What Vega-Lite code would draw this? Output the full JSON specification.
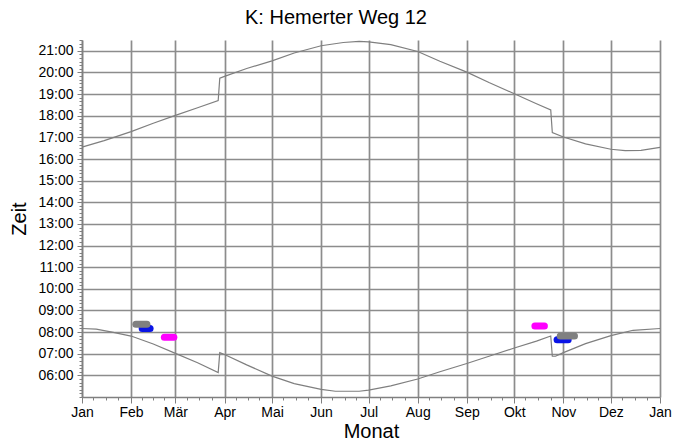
{
  "$schema": "https://vega.github.io/schema/vega-lite/v6.json",
  "autosize": {"type": "none"},
  "width": 578,
  "height": 357,
  "padding": {"left": 82, "top": 40, "right": 14, "bottom": 44},
  "background": "white",
  "title": {"text": "K: Hemerter Weg 12", "font": "Liberation Sans", "fontSize": 20, "fontWeight": "normal", "color": "#000000", "anchor": "middle", "offset": 11, "dx": -35},
  "config": {"view": {"stroke": null}, "font": "Liberation Sans"},
  "datasets": {
    "sun": [
      {"date": "2019-01-01", "min": 993, "series": "Sonnenuntergang"},
      {"date": "2019-01-15", "min": 1011, "series": "Sonnenuntergang"},
      {"date": "2019-02-01", "min": 1036, "series": "Sonnenuntergang"},
      {"date": "2019-02-15", "min": 1059, "series": "Sonnenuntergang"},
      {"date": "2019-03-01", "min": 1081, "series": "Sonnenuntergang"},
      {"date": "2019-03-15", "min": 1102, "series": "Sonnenuntergang"},
      {"date": "2019-03-28", "min": 1122, "series": "Sonnenuntergang"},
      {"date": "2019-03-29", "min": 1184, "series": "Sonnenuntergang"},
      {"date": "2019-04-01", "min": 1189, "series": "Sonnenuntergang"},
      {"date": "2019-04-15", "min": 1211, "series": "Sonnenuntergang"},
      {"date": "2019-05-01", "min": 1232, "series": "Sonnenuntergang"},
      {"date": "2019-05-15", "min": 1254, "series": "Sonnenuntergang"},
      {"date": "2019-06-01", "min": 1274, "series": "Sonnenuntergang"},
      {"date": "2019-06-15", "min": 1283, "series": "Sonnenuntergang"},
      {"date": "2019-06-25", "min": 1286, "series": "Sonnenuntergang"},
      {"date": "2019-07-01", "min": 1285, "series": "Sonnenuntergang"},
      {"date": "2019-07-15", "min": 1277, "series": "Sonnenuntergang"},
      {"date": "2019-08-01", "min": 1258, "series": "Sonnenuntergang"},
      {"date": "2019-08-15", "min": 1231, "series": "Sonnenuntergang"},
      {"date": "2019-09-01", "min": 1201, "series": "Sonnenuntergang"},
      {"date": "2019-09-15", "min": 1172, "series": "Sonnenuntergang"},
      {"date": "2019-10-01", "min": 1141, "series": "Sonnenuntergang"},
      {"date": "2019-10-15", "min": 1113, "series": "Sonnenuntergang"},
      {"date": "2019-10-24", "min": 1096, "series": "Sonnenuntergang"},
      {"date": "2019-10-25", "min": 1033, "series": "Sonnenuntergang"},
      {"date": "2019-11-01", "min": 1021, "series": "Sonnenuntergang"},
      {"date": "2019-11-15", "min": 1002, "series": "Sonnenuntergang"},
      {"date": "2019-12-01", "min": 987, "series": "Sonnenuntergang"},
      {"date": "2019-12-10", "min": 983, "series": "Sonnenuntergang"},
      {"date": "2019-12-20", "min": 984, "series": "Sonnenuntergang"},
      {"date": "2020-01-01", "min": 992, "series": "Sonnenuntergang"},
      {"date": "2019-01-01", "min": 490, "series": "Sonnenaufgang"},
      {"date": "2019-01-10", "min": 488, "series": "Sonnenaufgang"},
      {"date": "2019-01-20", "min": 480, "series": "Sonnenaufgang"},
      {"date": "2019-02-01", "min": 469, "series": "Sonnenaufgang"},
      {"date": "2019-02-15", "min": 447, "series": "Sonnenaufgang"},
      {"date": "2019-03-01", "min": 421, "series": "Sonnenaufgang"},
      {"date": "2019-03-15", "min": 395, "series": "Sonnenaufgang"},
      {"date": "2019-03-28", "min": 368, "series": "Sonnenaufgang"},
      {"date": "2019-03-29", "min": 423, "series": "Sonnenaufgang"},
      {"date": "2019-04-01", "min": 418, "series": "Sonnenaufgang"},
      {"date": "2019-04-15", "min": 389, "series": "Sonnenaufgang"},
      {"date": "2019-05-01", "min": 358, "series": "Sonnenaufgang"},
      {"date": "2019-05-15", "min": 337, "series": "Sonnenaufgang"},
      {"date": "2019-06-01", "min": 321, "series": "Sonnenaufgang"},
      {"date": "2019-06-10", "min": 316, "series": "Sonnenaufgang"},
      {"date": "2019-06-25", "min": 316, "series": "Sonnenaufgang"},
      {"date": "2019-07-01", "min": 319, "series": "Sonnenaufgang"},
      {"date": "2019-07-15", "min": 331, "series": "Sonnenaufgang"},
      {"date": "2019-08-01", "min": 350, "series": "Sonnenaufgang"},
      {"date": "2019-08-15", "min": 370, "series": "Sonnenaufgang"},
      {"date": "2019-09-01", "min": 393, "series": "Sonnenaufgang"},
      {"date": "2019-09-15", "min": 413, "series": "Sonnenaufgang"},
      {"date": "2019-10-01", "min": 436, "series": "Sonnenaufgang"},
      {"date": "2019-10-15", "min": 455, "series": "Sonnenaufgang"},
      {"date": "2019-10-24", "min": 469, "series": "Sonnenaufgang"},
      {"date": "2019-10-25", "min": 413, "series": "Sonnenaufgang"},
      {"date": "2019-10-27", "min": 413, "series": "Sonnenaufgang"},
      {"date": "2019-11-01", "min": 423, "series": "Sonnenaufgang"},
      {"date": "2019-11-15", "min": 448, "series": "Sonnenaufgang"},
      {"date": "2019-12-01", "min": 470, "series": "Sonnenaufgang"},
      {"date": "2019-12-15", "min": 485, "series": "Sonnenaufgang"},
      {"date": "2020-01-01", "min": 490, "series": "Sonnenaufgang"}
    ],
    "marks": [
      {"date": "2019-02-08", "min": 490, "id": "b1", "grp": "blau"},
      {"date": "2019-02-13", "min": 490, "id": "b1", "grp": "blau"},
      {"date": "2019-10-28", "min": 459, "id": "b2", "grp": "blau"},
      {"date": "2019-11-04", "min": 459, "id": "b2", "grp": "blau"},
      {"date": "2019-02-04", "min": 502, "id": "g1", "grp": "grau"},
      {"date": "2019-02-11", "min": 502, "id": "g1", "grp": "grau"},
      {"date": "2019-10-30", "min": 469, "id": "g2", "grp": "grau"},
      {"date": "2019-11-08", "min": 469, "id": "g2", "grp": "grau"},
      {"date": "2019-02-22", "min": 466, "id": "m1", "grp": "magenta"},
      {"date": "2019-02-28", "min": 466, "id": "m1", "grp": "magenta"},
      {"date": "2019-10-14", "min": 497, "id": "m2", "grp": "magenta"},
      {"date": "2019-10-20", "min": 497, "id": "m2", "grp": "magenta"}
    ]
  },
  "resolve": {"axis": {"x": "independent", "y": "independent"}},
  "layer": [
    {
      "data": {"name": "sun"},
      "mark": {"type": "line", "color": "#7f7f7f", "strokeWidth": 1.2, "interpolate": "linear"},
      "encoding": {
        "x": {
          "field": "date", "type": "temporal",
          "scale": {"type": "utc", "domain": [{"year": 2019, "month": 1, "date": 1, "utc": true}, {"year": 2020, "month": 1, "date": 1, "utc": true}], "nice": false},
          "axis": {
            "orient": "bottom",
            "values": [
              {"year": 2019, "month": 1, "date": 1, "utc": true},
              {"year": 2019, "month": 2, "date": 1, "utc": true},
              {"year": 2019, "month": 3, "date": 1, "utc": true},
              {"year": 2019, "month": 4, "date": 1, "utc": true},
              {"year": 2019, "month": 5, "date": 1, "utc": true},
              {"year": 2019, "month": 6, "date": 1, "utc": true},
              {"year": 2019, "month": 7, "date": 1, "utc": true},
              {"year": 2019, "month": 8, "date": 1, "utc": true},
              {"year": 2019, "month": 9, "date": 1, "utc": true},
              {"year": 2019, "month": 10, "date": 1, "utc": true},
              {"year": 2019, "month": 11, "date": 1, "utc": true},
              {"year": 2019, "month": 12, "date": 1, "utc": true},
              {"year": 2020, "month": 1, "date": 1, "utc": true}
            ],
            "labelExpr": "['Jan','Feb','Mär','Apr','Mai','Jun','Jul','Aug','Sep','Okt','Nov','Dez'][utcmonth(datum.value)]",
            "labelFont": "Liberation Sans", "labelFontSize": 14, "labelColor": "#000000", "labelPadding": 2, "labelFlush": false, "labelOverlap": false,
            "tickSize": 6, "tickColor": "#808080", "tickWidth": 1,
            "domainColor": "#808080", "domainWidth": 1.5,
            "grid": true, "gridColor": "#8c8c8c", "gridWidth": 1.7, "gridOpacity": 1,
            "title": "Monat", "titleFont": "Liberation Sans", "titleFontSize": 20, "titleFontWeight": "normal", "titleColor": "#000000", "titlePadding": 2
          }
        },
        "y": {
          "field": "min", "type": "quantitative",
          "scale": {"domain": [300, 1290], "nice": false, "zero": false},
          "axis": {
            "orient": "left",
            "values": [360, 420, 480, 540, 600, 660, 720, 780, 840, 900, 960, 1020, 1080, 1140, 1200, 1260],
            "labelExpr": "(floor(datum.value/60) < 10 ? '0' : '') + floor(datum.value/60) + ':00'",
            "labelFont": "Liberation Sans", "labelFontSize": 14, "labelColor": "#000000", "labelPadding": 4, "labelOverlap": false,
            "tickSize": 5, "tickColor": "#808080", "tickWidth": 1,
            "domainColor": "#808080", "domainWidth": 1.5,
            "grid": true, "gridColor": "#8c8c8c", "gridWidth": 1.7, "gridOpacity": 1,
            "title": "Zeit", "titleFont": "Liberation Sans", "titleFontSize": 20, "titleFontWeight": "normal", "titleColor": "#000000", "titlePadding": 8
          }
        },
        "detail": {"field": "series", "type": "nominal"}
      }
    },
    {
      "data": {"name": "marks"},
      "mark": {"type": "line", "strokeWidth": 7, "strokeCap": "round", "opacity": 1},
      "encoding": {
        "x": {
          "field": "date", "type": "temporal",
          "axis": {
            "orient": "bottom",
            "values": [
              {"year": 2019, "month": 1, "date": 8, "utc": true}, {"year": 2019, "month": 1, "date": 16, "utc": true}, {"year": 2019, "month": 1, "date": 24, "utc": true},
              {"year": 2019, "month": 2, "date": 8, "utc": true}, {"year": 2019, "month": 2, "date": 15, "utc": true}, {"year": 2019, "month": 2, "date": 22, "utc": true},
              {"year": 2019, "month": 3, "date": 8, "utc": true}, {"year": 2019, "month": 3, "date": 16, "utc": true}, {"year": 2019, "month": 3, "date": 24, "utc": true},
              {"year": 2019, "month": 4, "date": 8, "utc": true}, {"year": 2019, "month": 4, "date": 16, "utc": true}, {"year": 2019, "month": 4, "date": 23, "utc": true},
              {"year": 2019, "month": 5, "date": 8, "utc": true}, {"year": 2019, "month": 5, "date": 16, "utc": true}, {"year": 2019, "month": 5, "date": 24, "utc": true},
              {"year": 2019, "month": 6, "date": 8, "utc": true}, {"year": 2019, "month": 6, "date": 16, "utc": true}, {"year": 2019, "month": 6, "date": 23, "utc": true},
              {"year": 2019, "month": 7, "date": 8, "utc": true}, {"year": 2019, "month": 7, "date": 16, "utc": true}, {"year": 2019, "month": 7, "date": 24, "utc": true},
              {"year": 2019, "month": 8, "date": 8, "utc": true}, {"year": 2019, "month": 8, "date": 16, "utc": true}, {"year": 2019, "month": 8, "date": 24, "utc": true},
              {"year": 2019, "month": 9, "date": 8, "utc": true}, {"year": 2019, "month": 9, "date": 16, "utc": true}, {"year": 2019, "month": 9, "date": 23, "utc": true},
              {"year": 2019, "month": 10, "date": 8, "utc": true}, {"year": 2019, "month": 10, "date": 16, "utc": true}, {"year": 2019, "month": 10, "date": 24, "utc": true},
              {"year": 2019, "month": 11, "date": 8, "utc": true}, {"year": 2019, "month": 11, "date": 16, "utc": true}, {"year": 2019, "month": 11, "date": 23, "utc": true},
              {"year": 2019, "month": 12, "date": 8, "utc": true}, {"year": 2019, "month": 12, "date": 16, "utc": true}, {"year": 2019, "month": 12, "date": 24, "utc": true}
            ],
            "labels": false, "grid": false, "domain": false, "title": null,
            "tickSize": 3, "tickColor": "#808080", "tickWidth": 1
          }
        },
        "y": {
          "field": "min", "type": "quantitative",
          "axis": {
            "orient": "left", "tickCount": 99,
            "labels": false, "grid": false, "domain": false, "title": null,
            "tickSize": 3, "tickColor": "#808080", "tickWidth": 1
          }
        },
        "color": {"field": "grp", "type": "nominal", "scale": {"domain": ["blau", "grau", "magenta"], "range": ["#0a14e6", "#808080", "#ff00ff"]}, "legend": null},
        "detail": {"field": "id", "type": "nominal"},
        "order": {"field": "date", "type": "temporal"}
      }
    }
  ]
}
